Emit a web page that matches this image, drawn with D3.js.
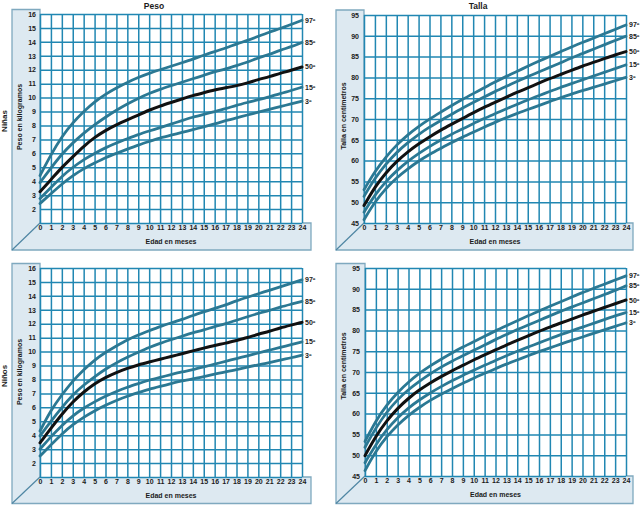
<!DOCTYPE html>
<html><head><meta charset="utf-8">
<script src="https://cdn.jsdelivr.net/npm/d3@7"></script>
<style>
html,body{margin:0;padding:0;background:#fff;}
text{font-family:"Liberation Sans Narrow","Arial Narrow","Liberation Sans",Arial,sans-serif;font-weight:bold;fill:#1b1b1b;}
</style></head>
<body><svg id="c" width="640" height="526"></svg>
<script>
// ---- categories / ticks ----
const months = [0,1,2,3,4,5,6,7,8,9,10,11,12,13,14,15,16,17,18,19,20,21,22,23,24];
const percentileLabels = ["3º","15º","50º","85º","97º"];
const pesoTicks = [2,3,4,5,6,7,8,9,10,11,12,13,14,15,16];
const tallaTicks = [45,50,55,60,65,70,75,80,85,90,95];

// ---- Niñas: peso (kg) ----
const ninasPesoP3  = [2.4,3.1,3.8,4.4,4.9,5.3,5.7,6.0,6.3,6.6,6.85,7.1,7.3,7.5,7.7,7.9,8.1,8.35,8.55,8.75,8.95,9.15,9.35,9.55,9.75];
const ninasPesoP15 = [2.75,3.55,4.35,5.0,5.55,6.0,6.4,6.75,7.05,7.35,7.6,7.85,8.1,8.35,8.6,8.8,9.0,9.2,9.45,9.65,9.85,10.05,10.3,10.5,10.75];
const ninasPesoP50 = [3.25,4.1,5.0,5.75,6.5,7.15,7.65,8.05,8.4,8.75,9.1,9.4,9.65,9.9,10.15,10.35,10.55,10.7,10.85,11.05,11.3,11.5,11.75,11.95,12.2];
const ninasPesoP85 = [3.9,4.95,5.95,6.75,7.45,8.05,8.6,9.1,9.55,9.95,10.3,10.6,10.85,11.1,11.35,11.6,11.85,12.05,12.3,12.55,12.85,13.1,13.4,13.65,13.95];
const ninasPesoP97 = [4.4,5.9,7.2,8.2,9.0,9.7,10.25,10.7,11.1,11.45,11.75,12.0,12.25,12.5,12.75,13.05,13.3,13.55,13.85,14.1,14.4,14.7,14.95,15.25,15.55];

// ---- Niñas: talla (cm) ----
const ninasTallaP3  = [45.8,50.1,53.3,55.9,58.0,59.9,61.5,62.9,64.3,65.6,66.8,68.0,69.2,70.3,71.3,72.3,73.2,74.2,75.1,76.0,76.8,77.6,78.4,79.2,80.0];
const ninasTallaP15 = [47.6,51.8,55.0,57.6,59.8,61.7,63.4,64.9,66.3,67.6,68.9,70.1,71.3,72.4,73.5,74.6,75.6,76.6,77.6,78.5,79.4,80.3,81.2,82.1,83.0];
const ninasTallaP50 = [49.2,53.7,57.1,59.8,62.1,64.0,65.7,67.3,68.7,70.1,71.5,72.8,74.0,75.2,76.4,77.5,78.6,79.7,80.7,81.7,82.7,83.6,84.5,85.4,86.2];
const ninasTallaP85 = [51.4,55.8,59.2,62.0,64.3,66.3,68.1,69.6,71.1,72.6,74.0,75.3,76.6,77.8,79.0,80.2,81.3,82.4,83.5,84.7,85.7,86.8,87.8,88.9,89.9];
const ninasTallaP97 = [53.0,57.4,60.9,63.8,66.2,68.2,70.0,71.6,73.2,74.7,76.1,77.5,78.9,80.2,81.4,82.7,83.9,85.0,86.2,87.3,88.4,89.4,90.5,91.5,92.6];

// ---- Niños: peso (kg) ----
const ninosPesoP3  = [2.5,3.3,4.1,4.75,5.3,5.75,6.15,6.5,6.8,7.05,7.3,7.5,7.7,7.9,8.05,8.2,8.4,8.55,8.7,8.9,9.05,9.2,9.4,9.55,9.75];
const ninosPesoP15 = [3.0,3.9,4.7,5.4,5.95,6.4,6.8,7.15,7.45,7.7,7.95,8.15,8.35,8.55,8.7,8.9,9.1,9.3,9.5,9.7,9.9,10.1,10.3,10.5,10.7];
const ninosPesoP50 = [3.45,4.5,5.5,6.4,7.1,7.7,8.15,8.5,8.8,9.05,9.25,9.45,9.65,9.85,10.05,10.25,10.45,10.6,10.8,11.0,11.25,11.45,11.7,11.9,12.1];
const ninosPesoP85 = [3.95,5.0,6.0,6.9,7.6,8.2,8.75,9.2,9.6,9.95,10.3,10.6,10.85,11.1,11.35,11.55,11.8,12.0,12.25,12.5,12.75,12.95,13.2,13.4,13.6];
const ninosPesoP97 = [4.3,5.8,6.9,7.9,8.7,9.4,9.95,10.4,10.85,11.2,11.5,11.8,12.05,12.3,12.6,12.85,13.1,13.35,13.65,13.9,14.15,14.4,14.65,14.9,15.15];

// ---- Niños: talla (cm) ----
const ninosTallaP3  = [46.3,51.0,54.5,57.3,59.6,61.5,63.2,64.7,66.0,67.3,68.5,69.7,70.8,71.9,72.9,73.9,74.9,75.8,76.7,77.6,78.4,79.3,80.1,81.0,81.8];
const ninosTallaP15 = [48.2,52.6,56.2,59.0,61.4,63.3,65.0,66.5,67.9,69.2,70.4,71.6,72.8,73.9,75.0,76.0,77.0,78.0,79.0,79.9,80.8,81.7,82.6,83.5,84.3];
const ninosTallaP50 = [49.9,54.6,58.3,61.3,63.7,65.7,67.4,68.9,70.3,71.6,72.9,74.1,75.3,76.5,77.6,78.7,79.8,80.8,81.8,82.7,83.7,84.6,85.5,86.4,87.3];
const ninosTallaP85 = [51.9,56.6,60.4,63.4,65.8,67.8,69.6,71.2,72.6,73.9,75.2,76.5,77.8,79.0,80.2,81.3,82.4,83.5,84.6,85.6,86.6,87.6,88.6,89.6,90.7];
const ninosTallaP97 = [53.3,58.3,62.1,65.1,67.6,69.7,71.5,73.1,74.6,76.0,77.3,78.6,79.9,81.1,82.3,83.5,84.7,85.8,86.9,88.0,89.1,90.1,91.1,92.1,93.1];

// ---- drawing ----
const svg = d3.select("#c");
const GRID = "#2187b2", CURVE = "#2b7893", WALL = "#dde9f1", EDGE = "#7fa9bf";

const panels = [
  {wallX:12, gx0:40, gx1:302, gy0:14, gy1:223, wallTop:9.5, floorB:250, floorR:311,
   domain:[1,16], grid:"peso", ticks:pesoTicks, title:"Peso", sex:"Niñas", ylab:"Peso en kilogramos", ylabY:117,
   series:[ninasPesoP3,ninasPesoP15,ninasPesoP50,ninasPesoP85,ninasPesoP97]},
  {wallX:336, gx0:364, gx1:626, gy0:15, gy1:223, wallTop:10, floorB:250, floorR:633,
   domain:[45,95], grid:"talla", ticks:tallaTicks, title:"Talla", sex:null, ylab:"Talla en centímetros", ylabY:116,
   series:[ninasTallaP3,ninasTallaP15,ninasTallaP50,ninasTallaP85,ninasTallaP97]},
  {wallX:12, gx0:40, gx1:302, gy0:268, gy1:477, wallTop:263.5, floorB:503.5, floorR:311,
   domain:[1,16], grid:"peso", ticks:pesoTicks, title:null, sex:"Niños", ylab:"Peso en kilogramos", ylabY:372,
   series:[ninosPesoP3,ninosPesoP15,ninosPesoP50,ninosPesoP85,ninosPesoP97]},
  {wallX:336, gx0:365, gx1:626, gy0:268, gy1:476, wallTop:263.5, floorB:503.5, floorR:633,
   domain:[45,95], grid:"talla", ticks:tallaTicks, title:null, sex:null, ylab:"Talla en centímetros", ylabY:366,
   series:[ninosTallaP3,ninosTallaP15,ninosTallaP50,ninosTallaP85,ninosTallaP97]}
];

panels.forEach((p,pi) => {
  const g = svg.append("g");
  const x = d3.scaleLinear().domain([0,24]).range([p.gx0,p.gx1]);
  const y = d3.scaleLinear().domain(p.domain).range([p.gy1,p.gy0]);

  // wall + floor (L shape)
  g.append("path")
    .attr("d", `M${p.wallX},${p.wallTop}L${p.gx0},${p.wallTop}L${p.gx0},${p.gy1}L${p.floorR},${p.gy1}L${p.floorR},${p.floorB}L${p.wallX},${p.floorB}Z`)
    .attr("fill", WALL).attr("stroke", EDGE).attr("stroke-width", 1.3);
  g.append("line")
    .attr("x1", p.gx0).attr("y1", p.gy1).attr("x2", p.wallX).attr("y2", p.floorB)
    .attr("stroke", "#4f86a3").attr("stroke-width", 1.2);

  // grid back
  g.append("rect").attr("x",p.gx0).attr("y",p.gy0).attr("width",p.gx1-p.gx0).attr("height",p.gy1-p.gy0)
    .attr("fill","#fff");

  const gridVals = p.grid === "peso" ? y.ticks(15) : y.ticks(10);
  const vg = g.append("g").attr("transform",`translate(0,${p.gy1})`)
    .call(d3.axisBottom(x).tickValues(months).tickSize(-(p.gy1-p.gy0)).tickFormat(""));
  const hg = g.append("g").attr("transform",`translate(${p.gx0},0)`)
    .call(d3.axisLeft(y).tickValues(gridVals).tickSize(-(p.gx1-p.gx0)).tickFormat(""));
  [vg,hg].forEach(a => {
    a.select(".domain").remove();
    a.selectAll("line").attr("stroke", GRID).attr("stroke-width", 1.5);
  });

  // curves
  const line = d3.line().x((d,i)=>x(months[i])).y(d=>y(d)).curve(d3.curveBasis);
  p.series.forEach((s,si) => {
    g.append("path").attr("d", line(s)).attr("fill","none")
      .attr("stroke", si===2 ? "#111" : CURVE).attr("stroke-width", si===2 ? 3 : 2.8)
      .attr("stroke-linecap","round");
    g.append("text").attr("x", p.gx1 + 3).attr("y", y(s[s.length-1]) + 2.5)
      .attr("font-size", 7).text(percentileLabels[si]);
  });

  // y tick labels
  const ya = g.append("g").attr("transform",`translate(${p.gx0},0)`)
    .call(d3.axisLeft(y).tickValues(p.ticks).tickSize(0).tickPadding(p.grid==="peso"?4:5).tickFormat(d3.format("d")));
  ya.select(".domain").remove();
  ya.selectAll("text").attr("font-size", 7).attr("font-family", null).attr("fill","#1b1b1b");

  // x tick labels (in floor)
  const xa = g.append("g").attr("transform",`translate(0,${p.gy1+2})`)
    .call(d3.axisBottom(x).tickValues(months).tickSize(0).tickPadding(0).tickFormat(d3.format("d")));
  xa.select(".domain").remove();
  xa.selectAll("text").attr("font-size", 7).attr("font-family", null).attr("fill","#1b1b1b");

  // axis titles
  g.append("text").attr("x", (p.gx0+p.gx1)/2).attr("y", p.gy1 + 21).attr("text-anchor","middle")
    .attr("font-size", 7).text("Edad en meses");
  g.append("text").attr("transform",`translate(${p.wallX+9.5},${p.ylabY}) rotate(-90)`)
    .attr("text-anchor","middle").attr("font-size", 7).text(p.ylab);
  if (p.sex) {
    g.append("text").attr("transform",`translate(${p.wallX-5},${p.ylabY+4}) rotate(-90)`)
      .attr("text-anchor","middle").attr("font-size", 8).text(p.sex);
  }
  if (p.title) {
    g.append("text").attr("x", (p.wallX+p.gx1)/2 - 3).attr("y", 9).attr("text-anchor","middle")
      .attr("font-size", 8.5).text(p.title);
  }
});
</script>
</body></html>
